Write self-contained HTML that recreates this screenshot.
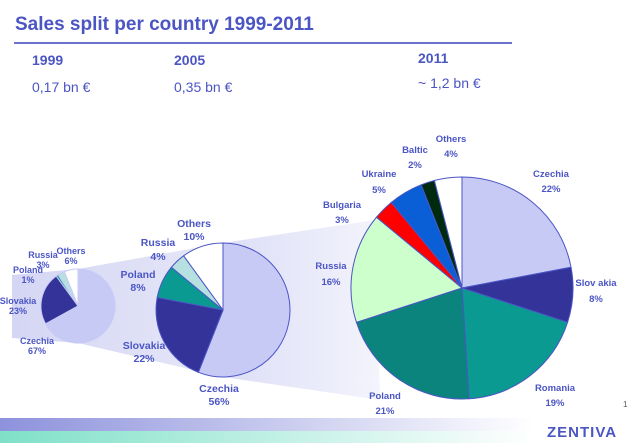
<!DOCTYPE html>
<html><head><meta charset="utf-8"><style>
body{margin:0;width:640px;height:443px;overflow:hidden;background:#fff;font-family:"Liberation Sans",sans-serif}
</style></head><body>
<svg id="s" width="640" height="443" xmlns="http://www.w3.org/2000/svg" font-family="Liberation Sans, sans-serif">
<defs>
<linearGradient id="g1" x1="0" x2="1"><stop offset="0" stop-color="#8d92dc"/><stop offset="1" stop-color="#ffffff"/></linearGradient>
<linearGradient id="g2" x1="0" x2="1"><stop offset="0" stop-color="#7fe0c8"/><stop offset="1" stop-color="#ffffff"/></linearGradient>
<linearGradient id="f1" x1="0" x2="1"><stop offset="0" stop-color="#d4d6f4"/><stop offset="1" stop-color="#e6e7f8"/></linearGradient>
<linearGradient id="f2" x1="0" x2="1"><stop offset="0" stop-color="#dcdef6"/><stop offset="1" stop-color="#f4f4fc"/></linearGradient>
</defs>
<text x="15" y="30" font-size="19" font-weight="bold" fill="#4b55c4">Sales split per country 1999-2011</text>
<rect x="14" y="42" width="498" height="2" fill="#6a72cc"/>
<g fill="#4b55c4" font-size="14">
<text x="32" y="65" font-weight="bold">1999</text><text x="32" y="92">0,17 bn €</text>
<text x="174" y="65" font-weight="bold">2005</text><text x="174" y="92">0,35 bn €</text>
<text x="418" y="63" font-weight="bold">2011</text><text x="418" y="88">~ 1,2 bn €</text>
</g>
<polygon points="12,275 78,269 223,243 223,377 78,343 12,338" fill="url(#f1)"/>
<polygon points="223,243 375,220 380,400 223,377" fill="url(#f2)"/>
<g id="pies"></g>
<g fill="#4b55c4" font-size="9" font-weight="bold" text-anchor="middle">
<text x="43" y="258">Russia</text><text x="43" y="268">3%</text>
<text x="71" y="254">Others</text><text x="71" y="264">6%</text>
<text x="28" y="273">Poland</text><text x="28" y="283">1%</text>
<text x="18" y="304">Slovakia</text><text x="18" y="314">23%</text>
<text x="37" y="344">Czechia</text><text x="37" y="354">67%</text>
</g>
<g fill="#4b55c4" font-size="10.5" font-weight="bold" text-anchor="middle">
<text x="158" y="246">Russia</text><text x="158" y="260">4%</text>
<text x="194" y="227">Others</text><text x="194" y="240">10%</text>
<text x="138" y="278">Poland</text><text x="138" y="291">8%</text>
<text x="144" y="349">Slovakia</text><text x="144" y="362">22%</text>
<text x="219" y="392">Czechia</text><text x="219" y="405">56%</text>
</g>
<g fill="#4b55c4" font-size="9.5" font-weight="bold" text-anchor="middle">
<text x="451" y="142">Others</text><text x="451" y="157">4%</text>
<text x="415" y="153">Baltic</text><text x="415" y="168">2%</text>
<text x="379" y="177">Ukraine</text><text x="379" y="193">5%</text>
<text x="342" y="208">Bulgaria</text><text x="342" y="223">3%</text>
<text x="331" y="269">Russia</text><text x="331" y="285">16%</text>
<text x="551" y="177">Czechia</text><text x="551" y="192">22%</text>
<text x="596" y="286">Slov akia</text><text x="596" y="302">8%</text>
<text x="555" y="391">Romania</text><text x="555" y="406">19%</text>
<text x="385" y="399">Poland</text><text x="385" y="414">21%</text>
</g>
<text x="623" y="407" font-size="8" fill="#555">1</text>
<rect x="0" y="418" width="535" height="13" fill="url(#g1)"/>
<rect x="0" y="431" width="535" height="12" fill="url(#g2)"/>
<text x="547" y="437" font-size="15" font-weight="bold" fill="#4b55c4" letter-spacing="1">ZENTIVA</text>
</svg>
<script>
function pie(cx,cy,r,data,stroke){
 var g=document.getElementById('pies'),a=0,ns='http://www.w3.org/2000/svg';
 data.forEach(function(d){
  var a2=a+d[0]/100*2*Math.PI;
  var x1=cx+r*Math.sin(a),y1=cy-r*Math.cos(a),x2=cx+r*Math.sin(a2),y2=cy-r*Math.cos(a2);
  var p=document.createElementNS(ns,'path');
  p.setAttribute('d','M'+cx+','+cy+' L'+x1+','+y1+' A'+r+','+r+' 0 '+((a2-a)>Math.PI?1:0)+' 1 '+x2+','+y2+' Z');
  p.setAttribute('fill',d[1]);p.setAttribute('stroke',stroke);p.setAttribute('stroke-width','1');
  g.appendChild(p);a=a2;
 });
}
pie(78,306,37,[[67,'#c8caf6'],[23,'#33339a'],[1,'#0b9a92'],[3,'#b7e0e0'],[6,'#ffffff']],'#c8caf6');
pie(223,310,67,[[56,'#c8caf6'],[22,'#33339a'],[8,'#0b9a92'],[4,'#b7e0e0'],[10,'#ffffff']],'#4b55c4');
pie(462,288,111,[[22,'#c8caf6'],[8,'#33339a'],[19,'#0b9a92'],[21,'#0b847e'],[16,'#ccffcc'],[3,'#ff0000'],[5,'#0b5fd6'],[2,'#002a10'],[4,'#ffffff']],'#4b55c4');
</script>
</body></html>
